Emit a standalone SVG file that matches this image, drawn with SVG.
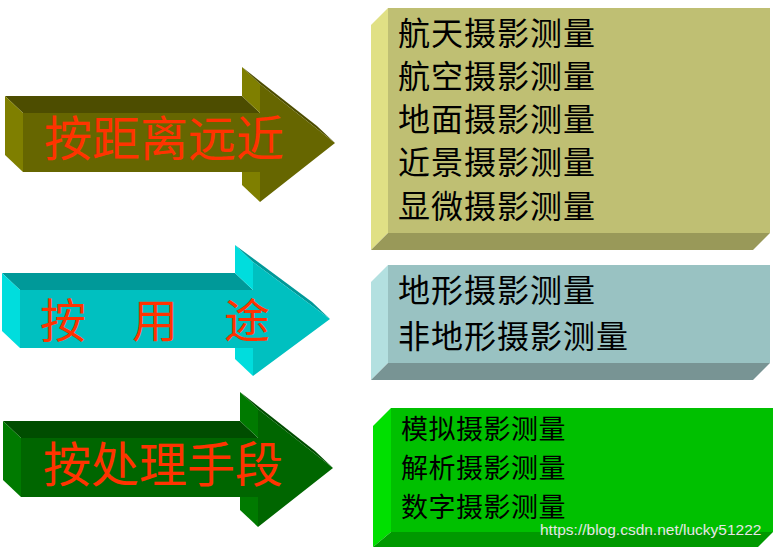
<svg xmlns="http://www.w3.org/2000/svg" width="776" height="550" viewBox="0 0 776 550">
<style>
.lbl{font-family:"Noto Sans CJK SC","Noto Sans CJK JP",sans-serif;fill:#ff3300;font-size:48px}
.item{font-family:"Noto Sans CJK SC","Noto Sans CJK JP",sans-serif;fill:#000;font-size:32px;letter-spacing:1px}
.item2{font-family:"Noto Sans CJK SC","Noto Sans CJK JP",sans-serif;fill:#000;font-size:27px;letter-spacing:0.5px}
.wm{font-family:"Liberation Sans",Arial,sans-serif;fill:#e6e6e6;font-size:15.5px}
</style>
<rect width="776" height="550" fill="#fff"/>
<g id="arrow-distance">
<polygon points="5,96 242,96 260,113 23,113" fill="#4d4d00"/>
<polygon points="5,96 23,113 23,172 5,155" fill="#7f7f00"/>
<polygon points="242,67 260,84 260,113 242,96" fill="#7f7f00"/>
<polygon points="242,155 260,172 260,202 242,185" fill="#7f7f00"/>
<polygon points="242,67 317,126 335,143 260,84" fill="#4d4d00"/>
<polygon points="23,113 260,113 260,84 335,143 260,202 260,172 23,172" fill="#666600"/>
<text class="lbl" x="44" y="156">按距离远近</text>
</g>
<g id="arrow-use">
<polygon points="2,273 235,273 253,290 20,290" fill="#009999"/>
<polygon points="2,273 20,290 20,348 2,331" fill="#00dddd"/>
<polygon points="235,245 253,262 253,290 235,273" fill="#00dddd"/>
<polygon points="235,331 253,348 253,376 235,359" fill="#00dddd"/>
<polygon points="235,245 312,302 330,319 253,262" fill="#009999"/>
<polygon points="20,290 253,290 253,262 330,319 253,376 253,348 20,348" fill="#00c0c0"/>
<text class="lbl" x="40" y="337" style="font-size:46px">按　用　途</text>
</g>
<g id="arrow-method">
<polygon points="3,421 240,421 258,438 21,438" fill="#004d00"/>
<polygon points="3,421 21,438 21,497 3,480" fill="#007a00"/>
<polygon points="240,392 258,409 258,438 240,421" fill="#007a00"/>
<polygon points="240,480 258,497 258,527 240,510" fill="#007a00"/>
<polygon points="240,392 315,451 333,468 258,409" fill="#004d00"/>
<polygon points="21,438 258,438 258,409 333,468 258,527 258,497 21,497" fill="#006600"/>
<text class="lbl" x="43" y="482">按处理手段</text>
</g>
<g id="box-distance">
<polygon points="371,25 388,8 388,233 371,250" fill="#e0e085"/>
<polygon points="371,250 388,233 770,233 753,250" fill="#999959"/>
<rect x="388" y="8" width="382" height="225" fill="#bfbf73"/>
<text class="item" x="398" y="45">航天摄影测量</text>
<text class="item" x="398" y="88">航空摄影测量</text>
<text class="item" x="398" y="131">地面摄影测量</text>
<text class="item" x="398" y="174">近景摄影测量</text>
<text class="item" x="398" y="218">显微摄影测量</text>
</g>
<g id="box-use">
<polygon points="371,282 388,265 388,363 371,380" fill="#b3e0e0"/>
<polygon points="371,380 388,363 770,363 753,380" fill="#789494"/>
<rect x="388" y="265" width="382" height="98" fill="#99c2c2"/>
<text class="item" x="398" y="302">地形摄影测量</text>
<text class="item" x="398" y="348">非地形摄影测量</text>
</g>
<g id="box-method">
<polygon points="373,426 391,408 391,532 373,547" fill="#00e000"/>
<polygon points="373,547 391,532 773,532 758,547" fill="#009900"/>
<rect x="391" y="408" width="382" height="124" fill="#00c000"/>
<text class="item2" x="401" y="439">模拟摄影测量</text>
<text class="item2" x="401" y="478">解析摄影测量</text>
<text class="item2" x="401" y="517">数字摄影测量</text>
</g>
<g id="connectors"></g>
<text class="wm" x="540" y="535">https://blog.csdn.net/lucky51222</text>
</svg>
